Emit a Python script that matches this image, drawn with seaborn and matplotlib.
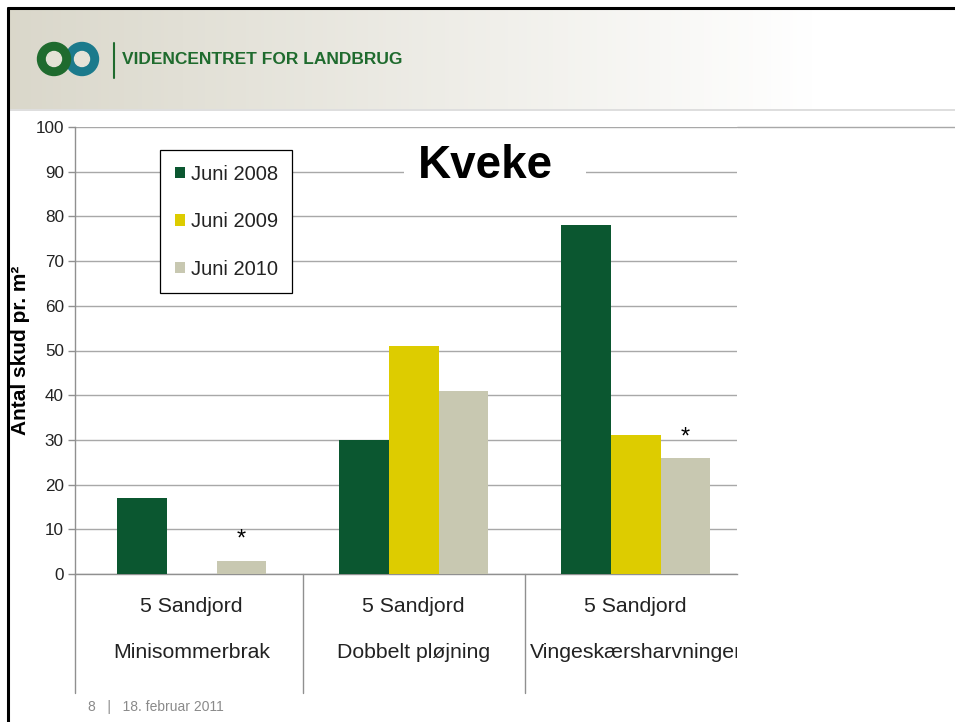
import numpy as np
import pandas as pd
import matplotlib
matplotlib.use("Agg")
import matplotlib.pyplot as plt
import seaborn as sns
from matplotlib.patches import Circle, Rectangle
from matplotlib.lines import Line2D
from matplotlib.transforms import Bbox, TransformedBbox

# ---- data ----
categories = ["Minisommerbrak", "Dobbelt pløjning", "Vingeskærsharvninger"]
cat_line1 = ["5 Sandjord", "5 Sandjord", "5 Sandjord"]
series = ["Juni 2008", "Juni 2009", "Juni 2010"]
juni_2008 = [17, 30, 78]
juni_2009 = [0, 51, 31]
juni_2010 = [3, 41, 26]
star_marks = [True, False, True]  # asterisk over Juni 2010 bar
yticks = [0, 10, 20, 30, 40, 50, 60, 70, 80, 90, 100]
colors = ["#0b5730", "#ddcc00", "#c8c8b1"]

df = pd.DataFrame({
    "cat": categories * 3,
    "serie": [s for s in series for _ in categories],
    "val": juni_2008 + juni_2009 + juni_2010,
})

sns.set_theme(style="white")
plt.rcParams["font.family"] = ["Liberation Sans", "DejaVu Sans"]

W, H = 955, 722
fig = plt.figure(figsize=(W / 100, H / 100), dpi=100)
fig.patch.set_facecolor("white")

def fx(px):
    return px / W

def fy(py):
    return 1 - py / H

# ---- header band with gradient ----
hax = fig.add_axes([fx(9), fy(109), fx(946), 100 / H])
grad = np.linspace(0, 1, 256)
c0 = np.array([0.855, 0.845, 0.795])
c1 = np.array([1.0, 1.0, 1.0])
t = np.clip(grad / 0.85, 0, 1)
img = (c0[None, :] * (1 - t[:, None]) + c1[None, :] * t[:, None])[None, :, :]
hax.imshow(img, aspect="auto", extent=[0, 1, 0, 1])
hax.set_axis_off()
fig.add_artist(Line2D([fx(9), 1], [fy(110), fy(110)], color="#d8d8d8", lw=1.2))

# logo
lax = fig.add_axes([0, 0, 1, 1], zorder=5)
lax.set_xlim(0, W)
lax.set_ylim(H, 0)
lax.set_axis_off()
lax.patch.set_alpha(0)
lax.add_patch(Circle((82, 59), 16.5, color="#1b7a8c"))
lax.add_patch(Circle((54, 59), 16.5, color="#1f6b2e"))
lax.add_patch(Circle((82, 59), 7.5, color="#e6e3d8"))
lax.add_patch(Circle((54, 59), 7.5, color="#e4e2d6"))
lax.plot([114, 114], [43, 78], color="#1f6b2e", lw=1.5)
lax.text(122, 60, "VIDENCENTRET FOR LANDBRUG", color="#1f6b2e", fontsize=12.5,
         fontweight="bold", va="center", ha="left",
         family=["Liberation Sans Narrow", "Liberation Sans", "DejaVu Sans"])

# slide border
fig.add_artist(Line2D([fx(8), fx(8)], [0, fy(8)], color="black", lw=2.2))
fig.add_artist(Line2D([fx(8), 1], [fy(8), fy(8)], color="black", lw=2.2))

# ---- chart axes ----
x0, x1, y0, y1 = 75, 737, 127, 574
ax = fig.add_axes([fx(x0), fy(y1), fx(x1 - x0), (y1 - y0) / H])
sns.barplot(data=df, x="cat", y="val", hue="serie", order=categories,
            hue_order=series, palette=colors, width=0.675, saturation=1,
            linewidth=0, ax=ax, legend=True, zorder=3)
xl0, xl1 = -0.525, 2.457
ax.set_xlim(xl0, xl1)
ax.set_ylim(0, 100)
ax.set_yticks(yticks)
ax.set_yticklabels([str(v) for v in yticks], fontsize=12.3, color="#222222")
ax.yaxis.grid(True, color="#a8a8a8", lw=1)
ax.set_axisbelow(True)
ax.tick_params(axis="y", direction="out", length=5, color="#909090", width=1, pad=3, left=True)
ax.tick_params(axis="x", bottom=False, labelbottom=False)
for s in ["top", "right"]:
    ax.spines[s].set_visible(False)
for s in ["left", "bottom"]:
    ax.spines[s].set_color("#909090")
    ax.spines[s].set_linewidth(1)
ax.set_xlabel("")
ax.set_ylabel("")
ax.patch.set_alpha(0)

# 100-line continues to the right edge
fig.add_artist(Line2D([fx(x1), 1], [fy(y0), fy(y0)], color="#a8a8a8", lw=1))

# y label
fig.text(fx(20), fy(350), "Antal skud pr. m²", rotation=90, fontsize=15,
         fontweight="bold", ha="center", va="center", color="black")

# category labels and separators
depth = (693 - 574) / (y1 - y0)
clipbox = TransformedBbox(Bbox([[fx(x0), fy(700)], [fx(x1), fy(574)]]), fig.transFigure)
for i in range(len(categories)):
    for txt, ypx in [(cat_line1[i], 606), (categories[i], 653)]:
        tt = ax.text(i, -(ypx - 574) / (y1 - y0), txt, transform=ax.get_xaxis_transform(),
                     ha="center", va="center", fontsize=15.3, color="#222222")
        tt.set_clip_on(True)
        tt.set_clip_box(clipbox)
for xs in [xl0, 0.5, 1.5]:
    ax.add_line(Line2D([xs, xs], [0, -depth], transform=ax.get_xaxis_transform(),
                       color="#909090", lw=1, clip_on=False))

# asterisks
for bar, star in zip(ax.containers[2], star_marks):
    if star:
        ax.annotate("*", (bar.get_x() + bar.get_width() / 2, bar.get_height()),
                    xytext=(0, 7), textcoords="offset points", ha="center",
                    va="bottom", fontsize=17, color="black")

# title with white backing that interrupts the 90 gridline
fig.add_artist(Rectangle((fx(404), fy(200)), fx(586 - 404), (200 - 140) / H,
                         transform=fig.transFigure, facecolor="white",
                         edgecolor="none", zorder=9))
fig.text(fx(485), fy(166), "Kveke", fontsize=33, fontweight="bold",
         ha="center", va="center", color="black", zorder=10)

# legend
leg = ax.legend(loc="upper left", bbox_to_anchor=(fx(160), fy(150)),
                bbox_transform=fig.transFigure, fontsize=14.5, frameon=True,
                fancybox=False, edgecolor="black", framealpha=1,
                handlelength=0.5, handleheight=0.5, handletextpad=0.3,
                labelspacing=1.42, borderpad=0.72, borderaxespad=0)
leg.get_frame().set_linewidth(0.9)
for txt in leg.get_texts():
    txt.set_color("#222222")

# footer
fig.text(fx(88), fy(707), "8   |   18. februar 2011", fontsize=10, color="#8a8a8a",
         ha="left", va="center")

fig.savefig("out.png", dpi=100)
